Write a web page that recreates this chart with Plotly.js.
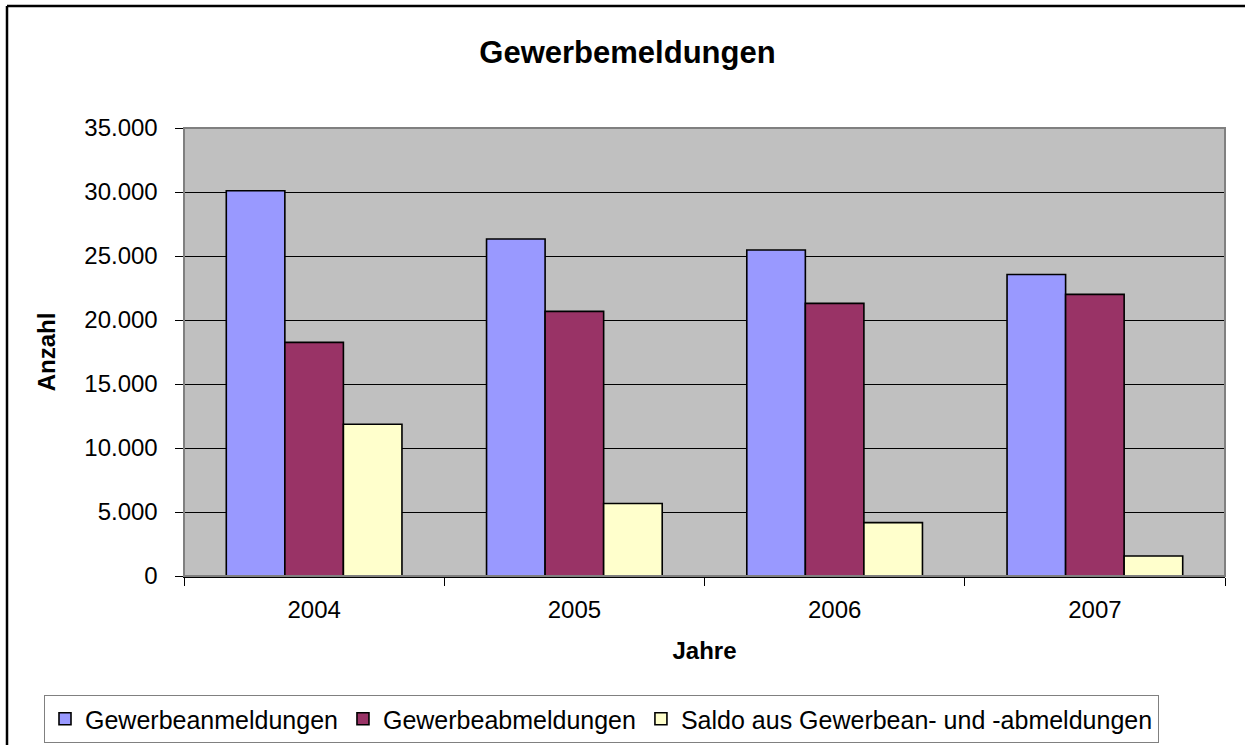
<!DOCTYPE html>
<html>
<head>
<meta charset="utf-8">
<script src="https://cdn.plot.ly/plotly-3.0.1.min.js"></script>
<style>
  html, body { margin: 0; padding: 0; background: #ffffff; }
  #chart { width: 1245px; height: 745px; }
</style>
</head>
<body>
<div id="chart"></div>
<script>
// ---- data ----
const years = ["2004", "2005", "2006", "2007"];
const anmeldungen = [30100, 26330, 25470, 23560];
const abmeldungen = [18250, 20670, 21300, 22000];
const saldo = [11850, 5660, 4170, 1560];
const seriesNames = ["Gewerbeanmeldungen", "Gewerbeabmeldungen", "Saldo aus Gewerbean- und -abmeldungen"];
const seriesColors = ["#9999FF", "#993366", "#FFFFCC"];
const yTickValues = [0, 5000, 10000, 15000, 20000, 25000, 30000, 35000];

// ---- layout geometry ----
const W = 1245, H = 745;
const M = { l: 184, r: 20, t: 128, b: 169 };
const plotW = W - M.l - M.r, plotH = H - M.t - M.b;
const px2x = p => (p - M.l) / plotW;
const py2y = p => (H - M.b - p) / plotH;

const FONT = "Liberation Sans, Arial, sans-serif";

const seriesData = [anmeldungen, abmeldungen, saldo];
const traces = seriesData.map((vals, i) => ({
  type: "bar",
  name: seriesNames[i],
  x: years,
  y: vals,
  marker: { color: seriesColors[i], line: { color: "#000000", width: 1.6 } },
  hoverinfo: "x+y+name"
}));

const layout = {
  width: W, height: H,
  margin: Object.assign({ autoexpand: false }, M),
  paper_bgcolor: "#ffffff",
  plot_bgcolor: "#C0C0C0",
  separators: ",.",
  barmode: "group",
  bargap: 0.325,
  bargroupgap: 0,
  font: { family: FONT, size: 24, color: "#000000" },
  title: {
    text: "<b>Gewerbemeldungen</b>",
    font: { family: FONT, size: 31, color: "#000000" },
    x: 0.504, xanchor: "center",
    y: 1 - 52 / H, yanchor: "middle", yref: "container"
  },
  xaxis: {
    type: "category",
    automargin: false,
    tickson: "boundaries",
    ticks: "outside", ticklen: 8, tickcolor: "#000000", tickwidth: 1,
    ticklabelstandoff: 12,
    showline: true, linecolor: "#000000", linewidth: 1.5,
    showgrid: false, zeroline: false,
    tickfont: { family: FONT, size: 24, color: "#000000" },
    title: { text: "<b>Jahre</b>", font: { family: FONT, size: 24, color: "#000000" }, standoff: 20 }
  },
  yaxis: {
    range: [0, 35000],
    automargin: false,
    tickvals: yTickValues,
    tickformat: ",d",
    ticks: "outside", ticklen: 8, tickcolor: "#000000", tickwidth: 1,
    ticklabelstandoff: 12,
    showline: true, linecolor: "#404040", linewidth: 1.5,
    showgrid: true, gridcolor: "#000000", gridwidth: 1,
    zeroline: false,
    tickfont: { family: FONT, size: 24, color: "#000000" },
    title: { text: "<b>Anzahl</b>", font: { family: FONT, size: 24, color: "#000000" }, standoff: 22 }
  },
  legend: {
    orientation: "h",
    x: px2x(44), xanchor: "left",
    y: py2y(695), yanchor: "top",
    bgcolor: "#ffffff",
    bordercolor: "#808080", borderwidth: 1,
    font: { family: FONT, size: 25, color: "#000000" },
    traceorder: "normal"
  },
  shapes: [
    // plot area frame (top / right)
    { type: "rect", xref: "paper", yref: "paper", x0: 0, x1: 1, y0: 0, y1: 1,
      line: { color: "#808080", width: 2 }, fillcolor: "rgba(0,0,0,0)", layer: "above" },
    // outer chart frame (top and left edges visible)
    { type: "line", xref: "paper", yref: "paper", x0: px2x(7), x1: px2x(W + 5), y0: py2y(6), y1: py2y(6),
      line: { color: "#000000", width: 2.5 } },
    { type: "line", xref: "paper", yref: "paper", x0: px2x(7), x1: px2x(7), y0: py2y(6), y1: py2y(H + 5),
      line: { color: "#000000", width: 2.5 } }
  ],
  showlegend: true
};

Plotly.newPlot("chart", traces, layout, { displayModeBar: false, staticPlot: true });
</script>
</body>
</html>
